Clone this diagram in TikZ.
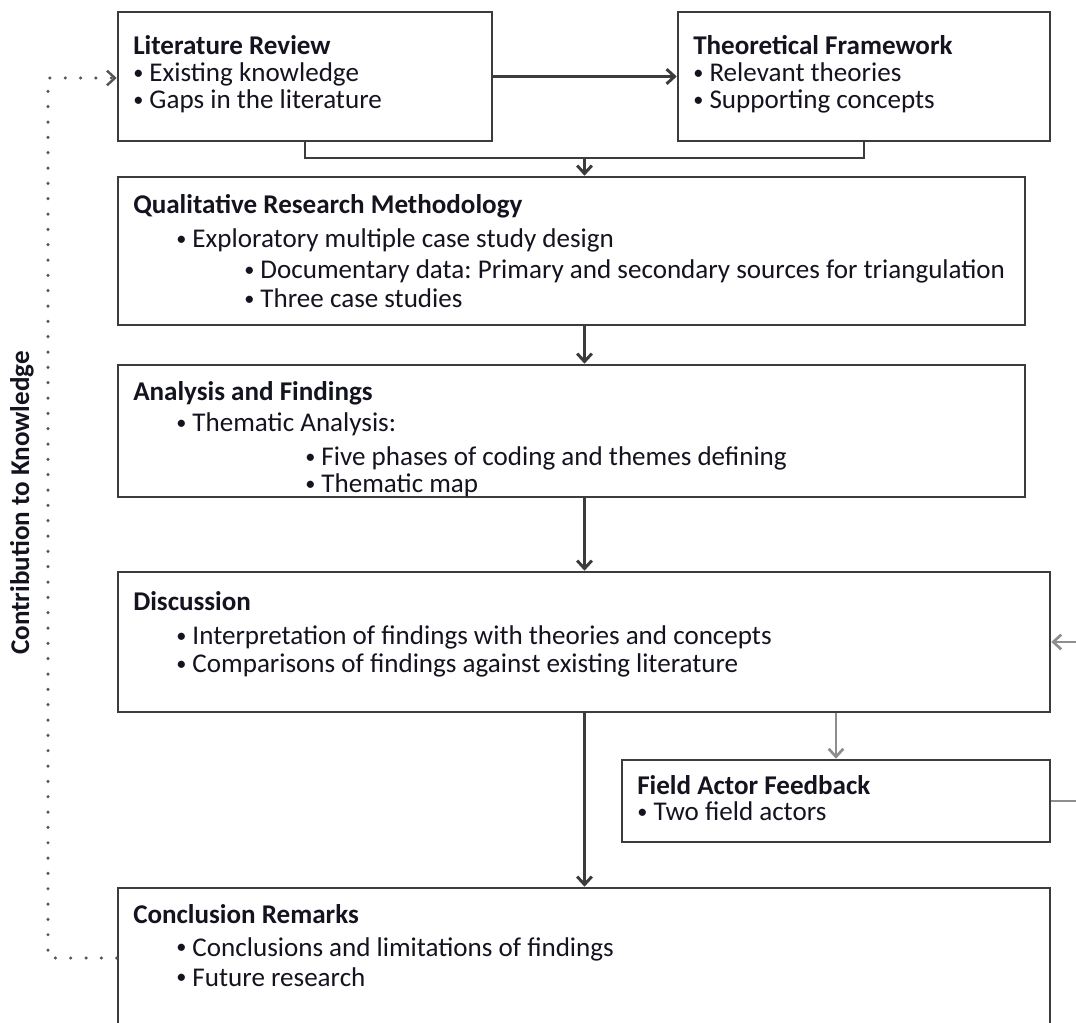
\documentclass[tikz,border=0pt]{standalone}
\usepackage{fontspec}
\setmainfont{Carlito}
\frenchspacing
\usetikzlibrary{arrows.meta,fit}
\definecolor{edge}{HTML}{3C3C3C}
\definecolor{soft}{HTML}{8E8E8E}
\definecolor{dots}{HTML}{555555}
\definecolor{ink}{HTML}{141420}
% small list bullet followed by a word space
\newcommand\lbul{\raisebox{0.1em}{\scalebox{0.75}{•}}\ }
\begin{document}
\begin{tikzpicture}[x=0.75pt,y=-0.75pt,
  box/.style={draw=edge, line width=1.9pt, fill=white, inner sep=0pt},
  txt/.style={anchor=base west, inner sep=0pt, text=ink, font=\fontsize{20.3}{24}\selectfont},
  ttl/.style={txt, font=\fontsize{20.3}{24}\selectfont\bfseries},
  flow/.style={draw=edge, line width=2.2pt, -{Straight Barb[length=6pt,width=11pt]}},
  plain/.style={draw=edge, line width=2.2pt},
  side/.style={draw=soft, line width=2pt, -{Straight Barb[length=6pt,width=11pt]}},
  sideline/.style={draw=soft, line width=2pt},
  back/.style={draw=dots, line width=2.6pt, line cap=round, dash pattern=on 0pt off 11.5pt, -{Straight Barb[length=6pt,width=11pt,line width=1.8pt]}}
]
\useasboundingbox (0,0) rectangle (1076,1023);

% boxes
\node[box, fit={(118,12) (492,141)}] (lit) {};
\node[box, fit={(678,12) (1050,141)}] (theo) {};
\node[box, fit={(118,177) (1025,325)}] (qual) {};
\node[box, fit={(118,365) (1025,497)}] (ana) {};
\node[box, fit={(118,572) (1050,712)}] (disc) {};
\node[box, fit={(622,760) (1050,842)}] (field) {};
\node[box, fit={(118,888) (1050,1045)}] (conc) {};

% texts
\node[ttl] (litT) at (133,55) {Literature Review};
\node[txt] (litA) at (133,82) {\lbul Existing knowledge};
\node[txt] (litB) at (133,109) {\lbul Gaps in the literature};

\node[ttl] (theoT) at (693,55) {Theoretical Framework};
\node[txt] (theoA) at (693,82) {\lbul Relevant theories};
\node[txt] (theoB) at (693,109) {\lbul Supporting concepts};

\node[ttl] (qualT) at (133,214) {Qualitative Research Methodology};
\node[txt] (qualA) at (176,248) {\lbul Exploratory multiple case study design};
\node[txt] (qualB) at (244,279) {\lbul Documentary data: Primary and secondary sources for triangulation};
\node[txt] (qualC) at (244,308) {\lbul Three case studies};

\node[ttl] (anaT) at (133,401) {Analysis and Findings};
\node[txt] (anaA) at (176,432) {\lbul Thematic Analysis:};
\node[txt] (anaB) at (305,466) {\lbul Five phases of coding and themes defining};
\node[txt] (anaC) at (305,493) {\lbul Thematic map};

\node[ttl] (discT) at (133,611) {Discussion};
\node[txt] (discA) at (176,645) {\lbul Interpretation of findings with theories and concepts};
\node[txt] (discB) at (176,673) {\lbul Comparisons of findings against existing literature};

\node[ttl] (fieldT) at (637,794) {Field Actor Feedback};
\node[txt] (fieldA) at (637,821) {\lbul Two field actors};

\node[ttl] (concT) at (133,923) {Conclusion Remarks};
\node[txt] (concA) at (176,956) {\lbul Conclusions and limitations of findings};
\node[txt] (concB) at (176,986) {\lbul Future research};

\node[inner sep=0pt, rotate=90, text=ink, font=\fontsize{20.3}{24}\selectfont\bfseries] (contrib) at (22,503) {Contribution to Knowledge};

% main flow
\draw[flow] (lit.east) -- (theo.west);
\coordinate (join) at (584.5,158);
\draw[plain] (lit.south) -- (lit.south |- join) -- (theo.south |- join) -- (theo.south);
\draw[flow] (join) -- (join |- qual.north);
\draw[flow] (join |- qual.south) -- (join |- ana.north);
\draw[flow] (join |- ana.south) -- (join |- disc.north);
\draw[flow] (join |- disc.south) -- (join |- conc.north);

% field feedback loop
\coordinate (fin) at (1076,642);
\coordinate (fout) at (1076,801);
\draw[side] (field.north |- disc.south) -- (field.north);
\draw[sideline] (field.east) -- (fout);
\draw[side] (fin) -- (disc.east);

% contribution back to the literature
\coordinate (cbot) at (48,958);
\coordinate (ctop) at (48,78);
\draw[back] (cbot -| conc.west) -- (cbot) -- (ctop) -- (ctop -| lit.west);
\end{tikzpicture}
\end{document}
